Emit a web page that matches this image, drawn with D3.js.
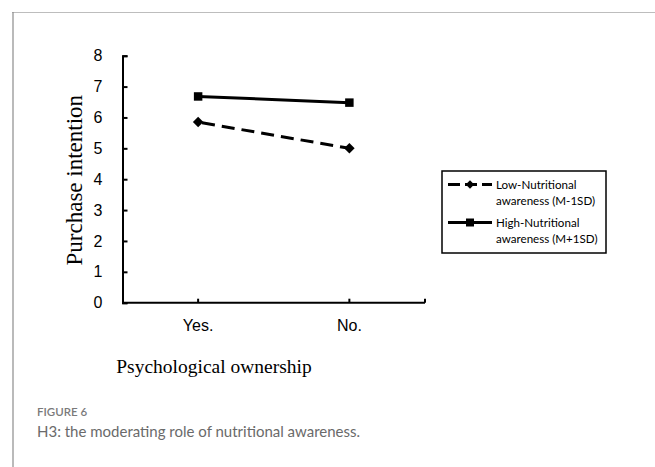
<!DOCTYPE html>
<html lang="en">
<head>
<meta charset="UTF-8">
<title>Figure 6</title>
<script src="https://d3js.org/d3.v7.min.js"></script>
<style>
  body { margin: 0; background: #fff; }
  .tick text { font-family: "Liberation Sans", Arial, sans-serif; font-size: 16px; fill: #000; }
</style>
</head>
<body>
<svg id="svg" width="655" height="467"></svg>
<script>
// data
const categories = ["Yes.", "No."]
const lowValues = [5.85, 5.0]
const highValues = [6.68, 6.48]
const yTicks = [0, 1, 2, 3, 4, 5, 6, 7, 8]

const svg = d3.select("#svg")

// frame of the figure panel
svg.append("line").attr("x1", 12).attr("x2", 655).attr("y1", 12.5).attr("y2", 12.5)
  .attr("stroke", "#bdbdbd").attr("stroke-width", 1.2)
svg.append("line").attr("x1", 13).attr("x2", 13).attr("y1", 12).attr("y2", 467)
  .attr("stroke", "#8c8c8c").attr("stroke-width", 1.2)

const plot = { left: 122.5, right: 425, top: 55.7, bottom: 302.7 }

const x = d3.scaleBand().domain(categories).range([plot.left, plot.right])
const y = d3.scaleLinear().domain([0, 8]).range([plot.bottom, plot.top])
const cx = d => x(d) + x.bandwidth() / 2

const g = svg.append("g")

// y axis, ticks pointing inward
const yAxis = g.append("g").attr("transform", `translate(${plot.left},0)`)
  .call(d3.axisLeft(y).tickValues(yTicks).tickSize(-5).tickPadding(20))
yAxis.select(".domain").attr("stroke-width", 2).attr("stroke", "#000")
yAxis.selectAll(".tick line").attr("stroke-width", 2)

// x axis, ticks pointing up
const xAxis = g.append("g").attr("transform", `translate(0,${plot.bottom})`)
  .call(d3.axisBottom(x).tickSize(-4).tickPadding(17))
xAxis.select(".domain").attr("stroke-width", 2).attr("stroke", "#000")
  .attr("d", `M${plot.left},0H${plot.right}`)
xAxis.selectAll(".tick line").attr("stroke-width", 2)
xAxis.append("line").attr("x1", plot.right).attr("x2", plot.right).attr("y1", 0).attr("y2", -4)
  .attr("stroke", "#000").attr("stroke-width", 2)

// axis titles
svg.append("text")
  .attr("transform", `translate(82,${(plot.top + plot.bottom) / 2 + 1}) rotate(-90)`)
  .attr("text-anchor", "middle")
  .attr("font-family", "'Liberation Serif', 'Times New Roman', serif")
  .attr("font-size", 23)
  .text("Purchase intention")

svg.append("text")
  .attr("x", 214).attr("y", 373)
  .attr("text-anchor", "middle")
  .attr("font-family", "'Liberation Serif', 'Times New Roman', serif")
  .attr("font-size", 19.5)
  .text("Psychological ownership")

const line = d3.line().x(d => cx(d[0])).y(d => y(d[1]))
const lowData = categories.map((c, i) => [c, lowValues[i]])
const highData = categories.map((c, i) => [c, highValues[i]])

g.append("path").datum(lowData)
  .attr("fill", "none").attr("stroke", "#000").attr("stroke-width", 3)
  .attr("stroke-dasharray", "13,7").attr("stroke-dashoffset", -4).attr("d", line)
g.append("path").datum(highData)
  .attr("fill", "none").attr("stroke", "#000").attr("stroke-width", 3)
  .attr("d", line)

const diamond = d3.symbol().type(d3.symbolDiamond2).size(70)
const square = d3.symbol().type(d3.symbolSquare).size(72)

g.selectAll(".low-pt").data(lowData).join("path")
  .attr("class", "low-pt")
  .attr("transform", d => `translate(${cx(d[0])},${y(d[1])})`)
  .attr("d", diamond)
g.selectAll(".high-pt").data(highData).join("path")
  .attr("class", "high-pt")
  .attr("transform", d => `translate(${cx(d[0])},${y(d[1])})`)
  .attr("d", square)

// legend
const legend = svg.append("g")
legend.append("rect").attr("x", 442).attr("y", 171).attr("width", 164).attr("height", 82)
  .attr("fill", "#fff").attr("stroke", "#000").attr("stroke-width", 1.5)

const legendRows = [
  { y: 184.5, dash: "12,5", sym: d3.symbol().type(d3.symbolDiamond2).size(45), lines: ["Low-Nutritional", "awareness (M-1SD)"] },
  { y: 222.5, dash: null, sym: d3.symbol().type(d3.symbolSquare).size(64), lines: ["High-Nutritional", "awareness (M+1SD)"] }
]
legendRows.forEach(r => {
  legend.append("line").attr("x1", 448).attr("x2", 492).attr("y1", r.y).attr("y2", r.y)
    .attr("stroke", "#000").attr("stroke-width", 3)
    .attr("stroke-dasharray", r.dash)
  legend.append("path").attr("transform", `translate(470,${r.y})`).attr("d", r.sym)
  const t = legend.append("text").attr("x", 496).attr("y", r.y + 4)
    .attr("font-family", "Lato, 'Open Sans', sans-serif").attr("font-size", 11.6)
  r.lines.forEach((s, k) => {
    t.append("tspan").attr("x", 496).attr("dy", k === 0 ? 0 : 16).text(s)
  })
})

// caption
svg.append("text").attr("x", 37).attr("y", 416)
  .attr("font-family", "Lato, 'Open Sans', sans-serif").attr("font-size", 11.5)
  .attr("font-weight", 600).attr("fill", "#7a7a7a")
  .text("FIGURE 6")
svg.append("text").attr("x", 37).attr("y", 437)
  .attr("font-family", "Lato, 'Open Sans', sans-serif").attr("font-size", 15)
  .attr("fill", "#6a6a6a")
  .text("H3: the moderating role of nutritional awareness.")
</script>
</body>
</html>
